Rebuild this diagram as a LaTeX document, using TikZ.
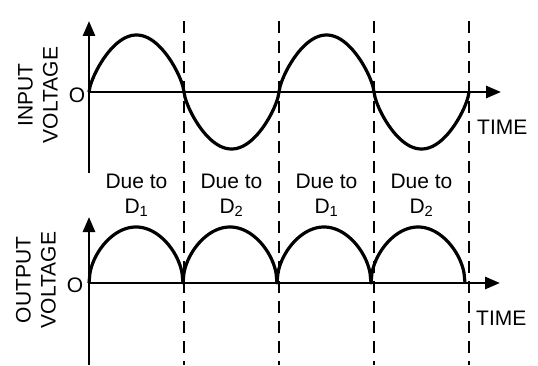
\documentclass[tikz,border=0pt]{standalone}
\usepackage{fontspec}
\setmainfont{Liberation Sans}
\usetikzlibrary{arrows.meta}

\tikzset{
    wave/.style={line width=3.2pt, line join=round},
    axisline/.style={line width=2.8pt},
    divider/.style={line width=2.8pt, dash pattern=on 12pt off 8pt},
    lbl/.style={font=\fontsize{21}{25}\selectfont, inner sep=0pt}
}

\begin{document}
\begin{tikzpicture}[x=1pt, y=1pt, >={Triangle[length=15pt,width=12pt]}]
    \useasboundingbox (0,0) rectangle (538,365);

    % --- TOP: input voltage ---
    \begin{scope}[shift={(89,273)}]
        \draw[axisline, ->] (0,-81) -- (0,71);
        \draw[axisline, ->] (0,0) -- (412,0);

        % full wave, two periods (rounded lobes)
        \draw[wave, domain=0:380, samples=381, variable=\x]
            plot ({\x},{57*sin(\x/95*180)/(abs(sin(\x/95*180))+0.0001)^0.3});

        \node[lbl] (otop) at (-12,-3) {O};
        \node[lbl, rotate=90, align=center] (inlabel) at (-51,-3) {INPUT\\VOLTAGE};
        \node[lbl, right] (timetop) at (388,-35) {TIME};
    \end{scope}

    % --- BOTTOM: output voltage ---
    \begin{scope}[shift={(89,82)}]
        \draw[axisline, ->] (0,-82) -- (0,66);
        \draw[axisline, ->] (0,0) -- (411,0);

        % rectified wave
        \draw[wave, domain=0:376, samples=377, variable=\x]
            plot ({\x},{56*sqrt(abs(sin(\x/94*180)))});

        \node[lbl] (obot) at (-14,-2) {O};
        \node[lbl, rotate=90, align=center] (outlabel) at (-53,3) {OUTPUT\\VOLTAGE};
        \node[lbl, right] (timebot) at (387,-35) {TIME};
    \end{scope}

    % dashed dividers
    \foreach \xd in {184,279,374,469}
        \draw[divider] (\xd,344) -- (\xd,0);

    % diode labels
    \node[lbl, align=center] (due1) at (136.5,170) {Due to\\D\textsubscript{1}};
    \node[lbl, align=center] (due2) at (231.5,170) {Due to\\D\textsubscript{2}};
    \node[lbl, align=center] (due3) at (326.5,170) {Due to\\D\textsubscript{1}};
    \node[lbl, align=center] (due4) at (421.5,170) {Due to\\D\textsubscript{2}};

\end{tikzpicture}
\end{document}
